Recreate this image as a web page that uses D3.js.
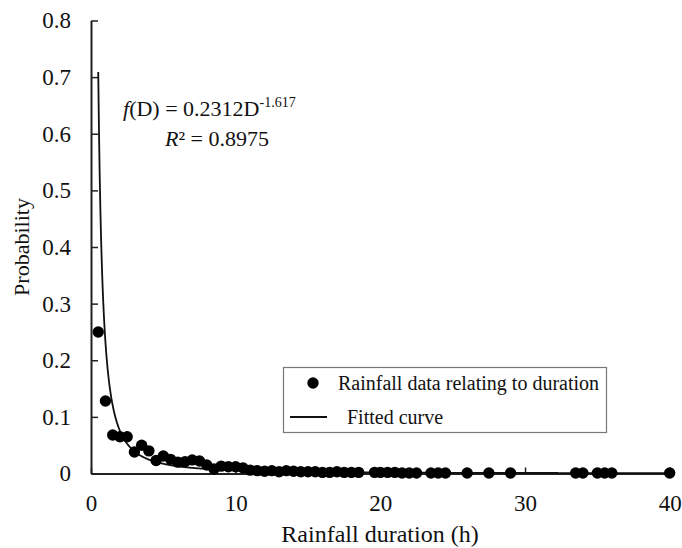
<!DOCTYPE html>
<html><head><meta charset="utf-8">
<script src="https://cdn.jsdelivr.net/npm/d3@7"></script>
<style>body{margin:0;background:#fff}svg{display:block}</style>
</head><body>
<svg id="c" width="682" height="548"></svg>
<script>
const durations = [0.5,1,1.5,2,2.5,3,3.5,4,4.5,5,5.5,6,6.5,7,7.5,8,8.5,9,9.5,10,10.5,11,11.5,12,12.5,13,13.5,14,14.5,15,15.5,16,16.5,17,17.5,18,18.5,19.6,20,20.5,21,21.5,22,22.5,23.5,24,24.5,26,27.5,29,33.5,34,35,35.5,36,40];
const probabilities = [0.25,0.128,0.068,0.065,0.065,0.038,0.05,0.04,0.023,0.031,0.025,0.02,0.021,0.024,0.022,0.015,0.008,0.013,0.012,0.012,0.01,0.006,0.005,0.004,0.005,0.003,0.005,0.004,0.003,0.003,0.003,0.002,0.002,0.003,0.002,0.002,0.002,0.002,0.002,0.002,0.002,0.001,0.001,0.001,0.001,0.001,0.001,0.001,0.001,0.001,0.001,0.001,0.001,0.001,0.001,0.001];
const fitA = 0.2312, fitB = -1.617;
const xTicks = [0,10,20,30,40];
const yTicks = [0,0.1,0.2,0.3,0.4,0.5,0.6,0.7,0.8];
const legendLabels = ["Rainfall data relating to duration","Fitted curve"];

const svg = d3.select("#c");
const x = d3.scaleLinear().domain([0,40]).range([91,669.7]);
const y = d3.scaleLinear().domain([0,0.8]).range([473.5,20.5]);
const font = "'Liberation Serif','Times New Roman',serif";

// axes
const xAxis = svg.append("g").attr("transform","translate(0,"+y(0)+")")
  .call(d3.axisBottom(x).tickValues(xTicks).tickSizeInner(-6).tickSizeOuter(0).tickPadding(21).tickFormat(d3.format("d")));
const yAxis = svg.append("g").attr("transform","translate("+x(0)+",0)")
  .call(d3.axisLeft(y).tickValues(yTicks).tickSizeInner(-7).tickSizeOuter(0).tickPadding(20).tickFormat(d=>d===0?"0":d3.format(".1f")(d)));
[xAxis,yAxis].forEach(a=>{
  a.selectAll("path,line").attr("stroke","#222").attr("stroke-width",1.5);
  a.selectAll("text").attr("font-family",font).attr("font-size",23).attr("fill","#111");
});
xAxis.select(".domain").attr("stroke-width",2);
yAxis.select(".domain").attr("stroke-width",2);

// fitted curve
const curvePts = d3.range(0.5,40.001,0.05).map(d=>[d,fitA*Math.pow(d,fitB)]);
svg.append("path").datum(curvePts)
  .attr("d",d3.line().x(d=>x(d[0])).y(d=>y(d[1])))
  .attr("fill","none").attr("stroke","#111").attr("stroke-width",1.8);

// points
svg.append("g").selectAll("circle").data(durations.map((d,i)=>[d,probabilities[i]]))
  .join("circle").attr("cx",d=>x(d[0])).attr("cy",d=>y(d[1])).attr("r",5.7).attr("fill","#000");

// equation
const eq = svg.append("text").attr("x",123).attr("y",116).attr("font-family",font).attr("font-size",22).attr("fill","#111");
eq.append("tspan").attr("font-style","italic").text("f");
eq.append("tspan").text("(D) = "+fitA+"D");
eq.append("tspan").attr("font-size",14).attr("dy",-9).text(String(fitB));
const r2 = svg.append("text").attr("x",165).attr("y",146).attr("font-family",font).attr("font-size",22).attr("fill","#111");
r2.append("tspan").attr("font-style","italic").text("R");
r2.append("tspan").text("² = 0.8975");

// axis titles
svg.append("text").attr("x",380).attr("y",542).attr("text-anchor","middle").attr("font-family",font).attr("font-size",24).attr("fill","#111").text("Rainfall duration (h)");
svg.append("text").attr("transform","translate(29,247) rotate(-90)").attr("text-anchor","middle").attr("font-family",font).attr("font-size",22).attr("fill","#111").text("Probability");

// legend
const lg = svg.append("g");
lg.append("rect").attr("x",283.5).attr("y",367.5).attr("width",323).attr("height",65).attr("fill","#fff").attr("stroke","#777").attr("stroke-width",1.2);
lg.append("circle").attr("cx",313).attr("cy",383).attr("r",5.7).attr("fill","#000");
lg.append("line").attr("x1",290).attr("x2",327).attr("y1",417).attr("y2",417).attr("stroke","#111").attr("stroke-width",1.8);
lg.append("text").attr("x",338).attr("y",390).attr("font-family",font).attr("font-size",20).attr("fill","#111").text(legendLabels[0]);
lg.append("text").attr("x",347).attr("y",424).attr("font-family",font).attr("font-size",20).attr("fill","#111").text(legendLabels[1]);
</script>
</body></html>
